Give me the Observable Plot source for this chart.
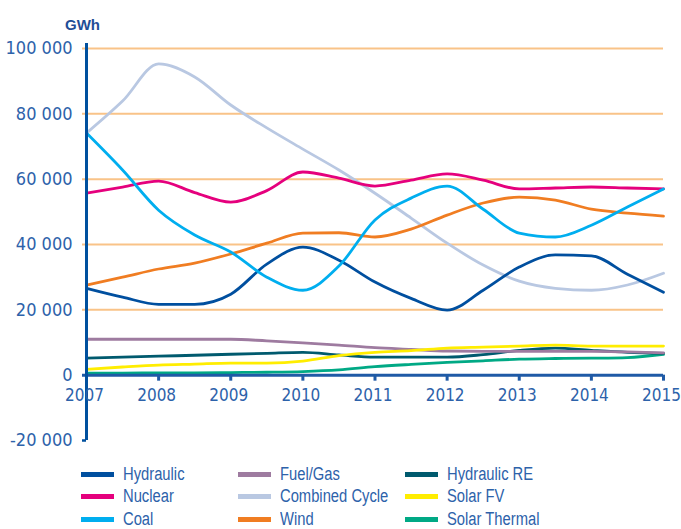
<!DOCTYPE html>
<html>
<head>
<meta charset="utf-8">
<script src="https://cdn.jsdelivr.net/npm/d3@7"></script>
<script src="https://cdn.jsdelivr.net/npm/@observablehq/plot@0.6"></script>
<style>
  html, body { margin: 0; padding: 0; background: #fff; }
  body { width: 681px; height: 529px; overflow: hidden; }
  #chart { position: absolute; left: 0; top: 0; }
  #legend { position: absolute; left: 81px; top: 463px; display: grid; grid-template-columns: 157px 167px auto; grid-auto-rows: 22.5px; color: #2d62aa; font-family: "Liberation Sans", Arial, sans-serif; font-size: 18px; }
  .item { display: flex; align-items: center; white-space: nowrap; }
  .sw { display: inline-block; width: 33px; height: 5px; margin-right: 9px; flex: none; }
  .lab { display: inline-block; transform: scaleX(0.82); transform-origin: left center; }
</style>
</head>
<body>
<div id="chart"></div>
<div id="legend"></div>
<script>
// Half-year sample points
const years = [2007, 2007.5, 2008, 2008.5, 2009, 2009.5, 2010, 2010.5, 2011, 2011.5, 2012, 2012.5, 2013, 2013.5, 2014, 2014.5, 2015];
const xTicks = [2007, 2008, 2009, 2010, 2011, 2012, 2013, 2014, 2015];
const yTicks = [-20000, 0, 20000, 40000, 60000, 80000, 100000];
const gridTicks = [20000, 40000, 60000, 80000, 100000];

const seriesNames = ["Hydraulic", "Nuclear", "Coal", "Fuel/Gas", "Combined Cycle", "Wind", "Hydraulic RE", "Solar FV", "Solar Thermal"];
const seriesColors = ["#004f9f", "#e5007d", "#00aeef", "#9e7ba0", "#b9c8e2", "#f07d22", "#005a6e", "#ffed00", "#00a985"];

const hydraulic     = [26600, 23900, 21700, 21700, 24800, 34000, 39200, 35200, 28500, 23500, 19900, 26000, 33100, 36800, 36500, 30900, 25400];
const nuclear       = [55700, 57600, 59400, 55900, 53000, 56500, 62200, 60300, 57900, 59700, 61600, 59700, 57000, 57300, 57600, 57300, 57000];
const coal          = [74100, 62800, 50500, 42900, 37700, 30000, 26000, 33400, 47500, 54200, 57900, 50800, 43500, 42300, 45900, 51500, 57000];
const fuelGas       = [11000, 11000, 11000, 11000, 11000, 10500, 9900, 9200, 8400, 7900, 7400, 7300, 7300, 7300, 7300, 7100, 6800];
const combinedCycle = [74100, 83900, 95300, 91300, 82700, 75700, 69200, 62800, 55700, 48100, 40400, 33700, 28800, 26600, 26000, 27600, 31200];
const wind          = [27600, 30000, 32500, 34300, 37100, 40400, 43500, 43600, 42300, 44700, 49000, 52700, 54500, 53600, 50800, 49600, 48700];
const hydraulicRE   = [5200, 5500, 5800, 6100, 6400, 6700, 7000, 6200, 5500, 5500, 5500, 6300, 7600, 8300, 7600, 7000, 6700];
const solarFV       = [1800, 2500, 3100, 3400, 3700, 3700, 4300, 6000, 7000, 7500, 8300, 8600, 8900, 9200, 8900, 8900, 8900];
const solarThermal  = [600, 600, 700, 700, 800, 900, 1100, 1600, 2600, 3300, 3900, 4400, 4900, 5100, 5200, 5400, 6400];

const seriesValues = [hydraulic, nuclear, coal, fuelGas, combinedCycle, wind, hydraulicRE, solarFV, solarThermal];
// drawing order (back to front)
const drawOrder = ["Solar Thermal", "Hydraulic RE", "Fuel/Gas", "Solar FV", "Combined Cycle", "Wind", "Nuclear", "Hydraulic", "Coal"];

const table = [];
for (const name of drawOrder) {
  const vals = seriesValues[seriesNames.indexOf(name)];
  years.forEach((yr, i) => table.push({series: name, year: yr, value: vals[i]}));
}

const fmt = d => d3.format(",")(d).replace(/,/g, " ").replace("\u2212", "-");
const tickFont = '"DejaVu Sans Condensed", "Liberation Sans", sans-serif';

const chart = Plot.plot({
  width: 681,
  height: 448,
  marginLeft: 86,
  marginRight: 18,
  marginTop: 48,
  marginBottom: 8,
  style: {fontFamily: tickFont, fontSize: "18px", color: "#2d62aa", background: "white", overflow: "visible"},
  x: {domain: [2007, 2015], axis: null},
  y: {domain: [-20000, 100000], axis: null},
  color: {domain: seriesNames, range: seriesColors},
  marks: [
    Plot.ruleY(gridTicks, {x1: 2007, x2: 2015, insetLeft: -4, stroke: "#f9c388", strokeWidth: 2}),
    Plot.line(table, {x: "year", y: "value", z: "series", stroke: "series", curve: "monotone-x", strokeWidth: 2.8}),
    Plot.ruleY([-20000], {x1: 2007, x2: 2007, insetLeft: -4, stroke: "#00509e", strokeWidth: 2.5}),
    Plot.ruleY([0], {x1: 2007, x2: 2015, insetLeft: -4, stroke: "#1f5aa6", strokeWidth: 3}),
    Plot.ruleX(xTicks, {x: d => d, y1: 0, y2: 0, insetBottom: -6, stroke: "#1f5aa6", strokeWidth: 3}),
    Plot.ruleX([2007], {y1: -20000, y2: 101500, stroke: "#00509e", strokeWidth: 3}),
    Plot.axisY(yTicks, {label: null, tickSize: 0, tickPadding: 14, tickFormat: fmt, fontSize: 18, fill: "#2d62aa", style: "letter-spacing: 0.8px"}),
    Plot.text(xTicks, {x: d => d, y: 0, text: d => String(d), dx: -2, dy: 20, fontSize: 17, fill: "#2d62aa"}),
    Plot.text(["GWh"], {frameAnchor: "top-left", text: d => d, textAnchor: "middle", dx: -4, dy: -29, fontWeight: "bold", fontSize: 15, fill: "#1f4e96", fontFamily: '"Liberation Sans", Arial, sans-serif'})
  ]
});
document.getElementById("chart").appendChild(chart);

// Legend: 3 columns, filled row by row
const legendOrder = ["Hydraulic", "Fuel/Gas", "Hydraulic RE", "Nuclear", "Combined Cycle", "Solar FV", "Coal", "Wind", "Solar Thermal"];
const legend = document.getElementById("legend");
for (const name of legendOrder) {
  const item = document.createElement("div");
  item.className = "item";
  const sw = document.createElement("span");
  sw.className = "sw";
  sw.style.background = seriesColors[seriesNames.indexOf(name)];
  const lab = document.createElement("span");
  lab.className = "lab";
  lab.textContent = name;
  item.appendChild(sw);
  item.appendChild(lab);
  legend.appendChild(item);
}
</script>
</body>
</html>
